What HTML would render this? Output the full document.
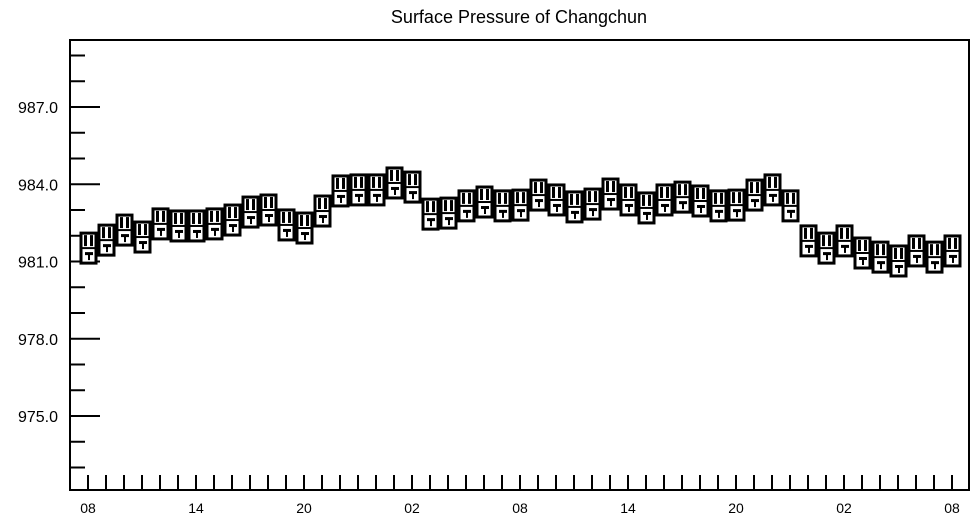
<!DOCTYPE html>
<html><head><meta charset="utf-8"><style>
body{margin:0;background:#fff;}
svg text{font-family:"Liberation Sans",Arial,sans-serif;fill:#000;}
</style></head><body>
<svg id="chart" width="975" height="520" viewBox="0 0 975 520" xmlns="http://www.w3.org/2000/svg">
<rect x="0" y="0" width="975" height="520" fill="#fff"/>
<text x="519" y="23" font-size="18" text-anchor="middle">Surface Pressure of Changchun</text>
<rect x="70" y="40" width="899" height="450" fill="none" stroke="#000" stroke-width="2"/>
<g id="yaxis"></g>
<g id="xaxis"></g>
<g id="marks"></g>
</svg>
<script>
const hourLabels = ["08","14","20","02","08","14","20","02","08"];
const yTickLabels = [975, 978, 981, 984, 987];
const pressure = [981.52,981.83,982.22,981.95,982.46,982.38,982.38,982.46,982.61,982.92,983.00,982.42,982.30,982.96,983.74,983.78,983.78,984.05,983.89,982.84,982.88,983.16,983.31,983.16,983.19,983.58,983.39,983.12,983.23,983.62,983.39,983.08,983.39,983.50,983.35,983.16,983.19,983.58,983.78,983.16,981.80,981.52,981.80,981.33,981.17,981.02,981.41,981.17,981.41];

const NS="http://www.w3.org/2000/svg";
function yScale(v){return 107+(987-v)*25.75;}
function xScale(i){return 88+i*18;}
function mk(tag,attrs,parent){const e=document.createElementNS(NS,tag);for(const k in attrs)e.setAttribute(k,attrs[k]);parent.appendChild(e);return e;}

const yaxis=document.getElementById('yaxis');
for(let v=973;v<=989;v++){
  const major=yTickLabels.includes(v);
  const t=mk('line',{x1:70,x2:major?100:85,y1:yScale(v),y2:yScale(v),stroke:'#000','stroke-width':2},yaxis);
  
  
}
yTickLabels.forEach(v=>{
  const t=mk('text',{x:58,y:yScale(v)+6,'font-size':16,'text-anchor':'end'},yaxis);
  t.textContent=v.toFixed(1);
  
  
});

const xaxis=document.getElementById('xaxis');
for(let i=0;i<pressure.length;i++){
  const t=mk('line',{x1:xScale(i),x2:xScale(i),y1:490,y2:475,stroke:'#000','stroke-width':2},xaxis);
  
  
}
hourLabels.forEach((h,k)=>{
  const t=mk('text',{x:xScale(k*6),y:513,'font-size':14,'text-anchor':'middle'},xaxis);
  t.textContent=h;
  
  
});

const marks=document.getElementById('marks');
pressure.forEach((v,i)=>{
  const cx=xScale(i), cy=yScale(v);
  const g=mk('g',{},marks);
  
  
  mk('rect',{x:cx-7,y:cy-15,width:15,height:30,fill:'#fff',stroke:'#000','stroke-width':3},g);
  mk('line',{x1:cx-7,x2:cx+8,y1:cy,y2:cy,stroke:'#000','stroke-width':2},g);
  mk('rect',{x:cx-4,y:cy-13,width:3,height:11,fill:'#000'},g);
  mk('rect',{x:cx+2,y:cy-13,width:3,height:11,fill:'#000'},g);
  mk('rect',{x:cx-3,y:cy+4,width:8,height:3,fill:'#000'},g);
  mk('rect',{x:cx-0,y:cy+6,width:2,height:6,fill:'#000'},g);
});
</script>
</body></html>
